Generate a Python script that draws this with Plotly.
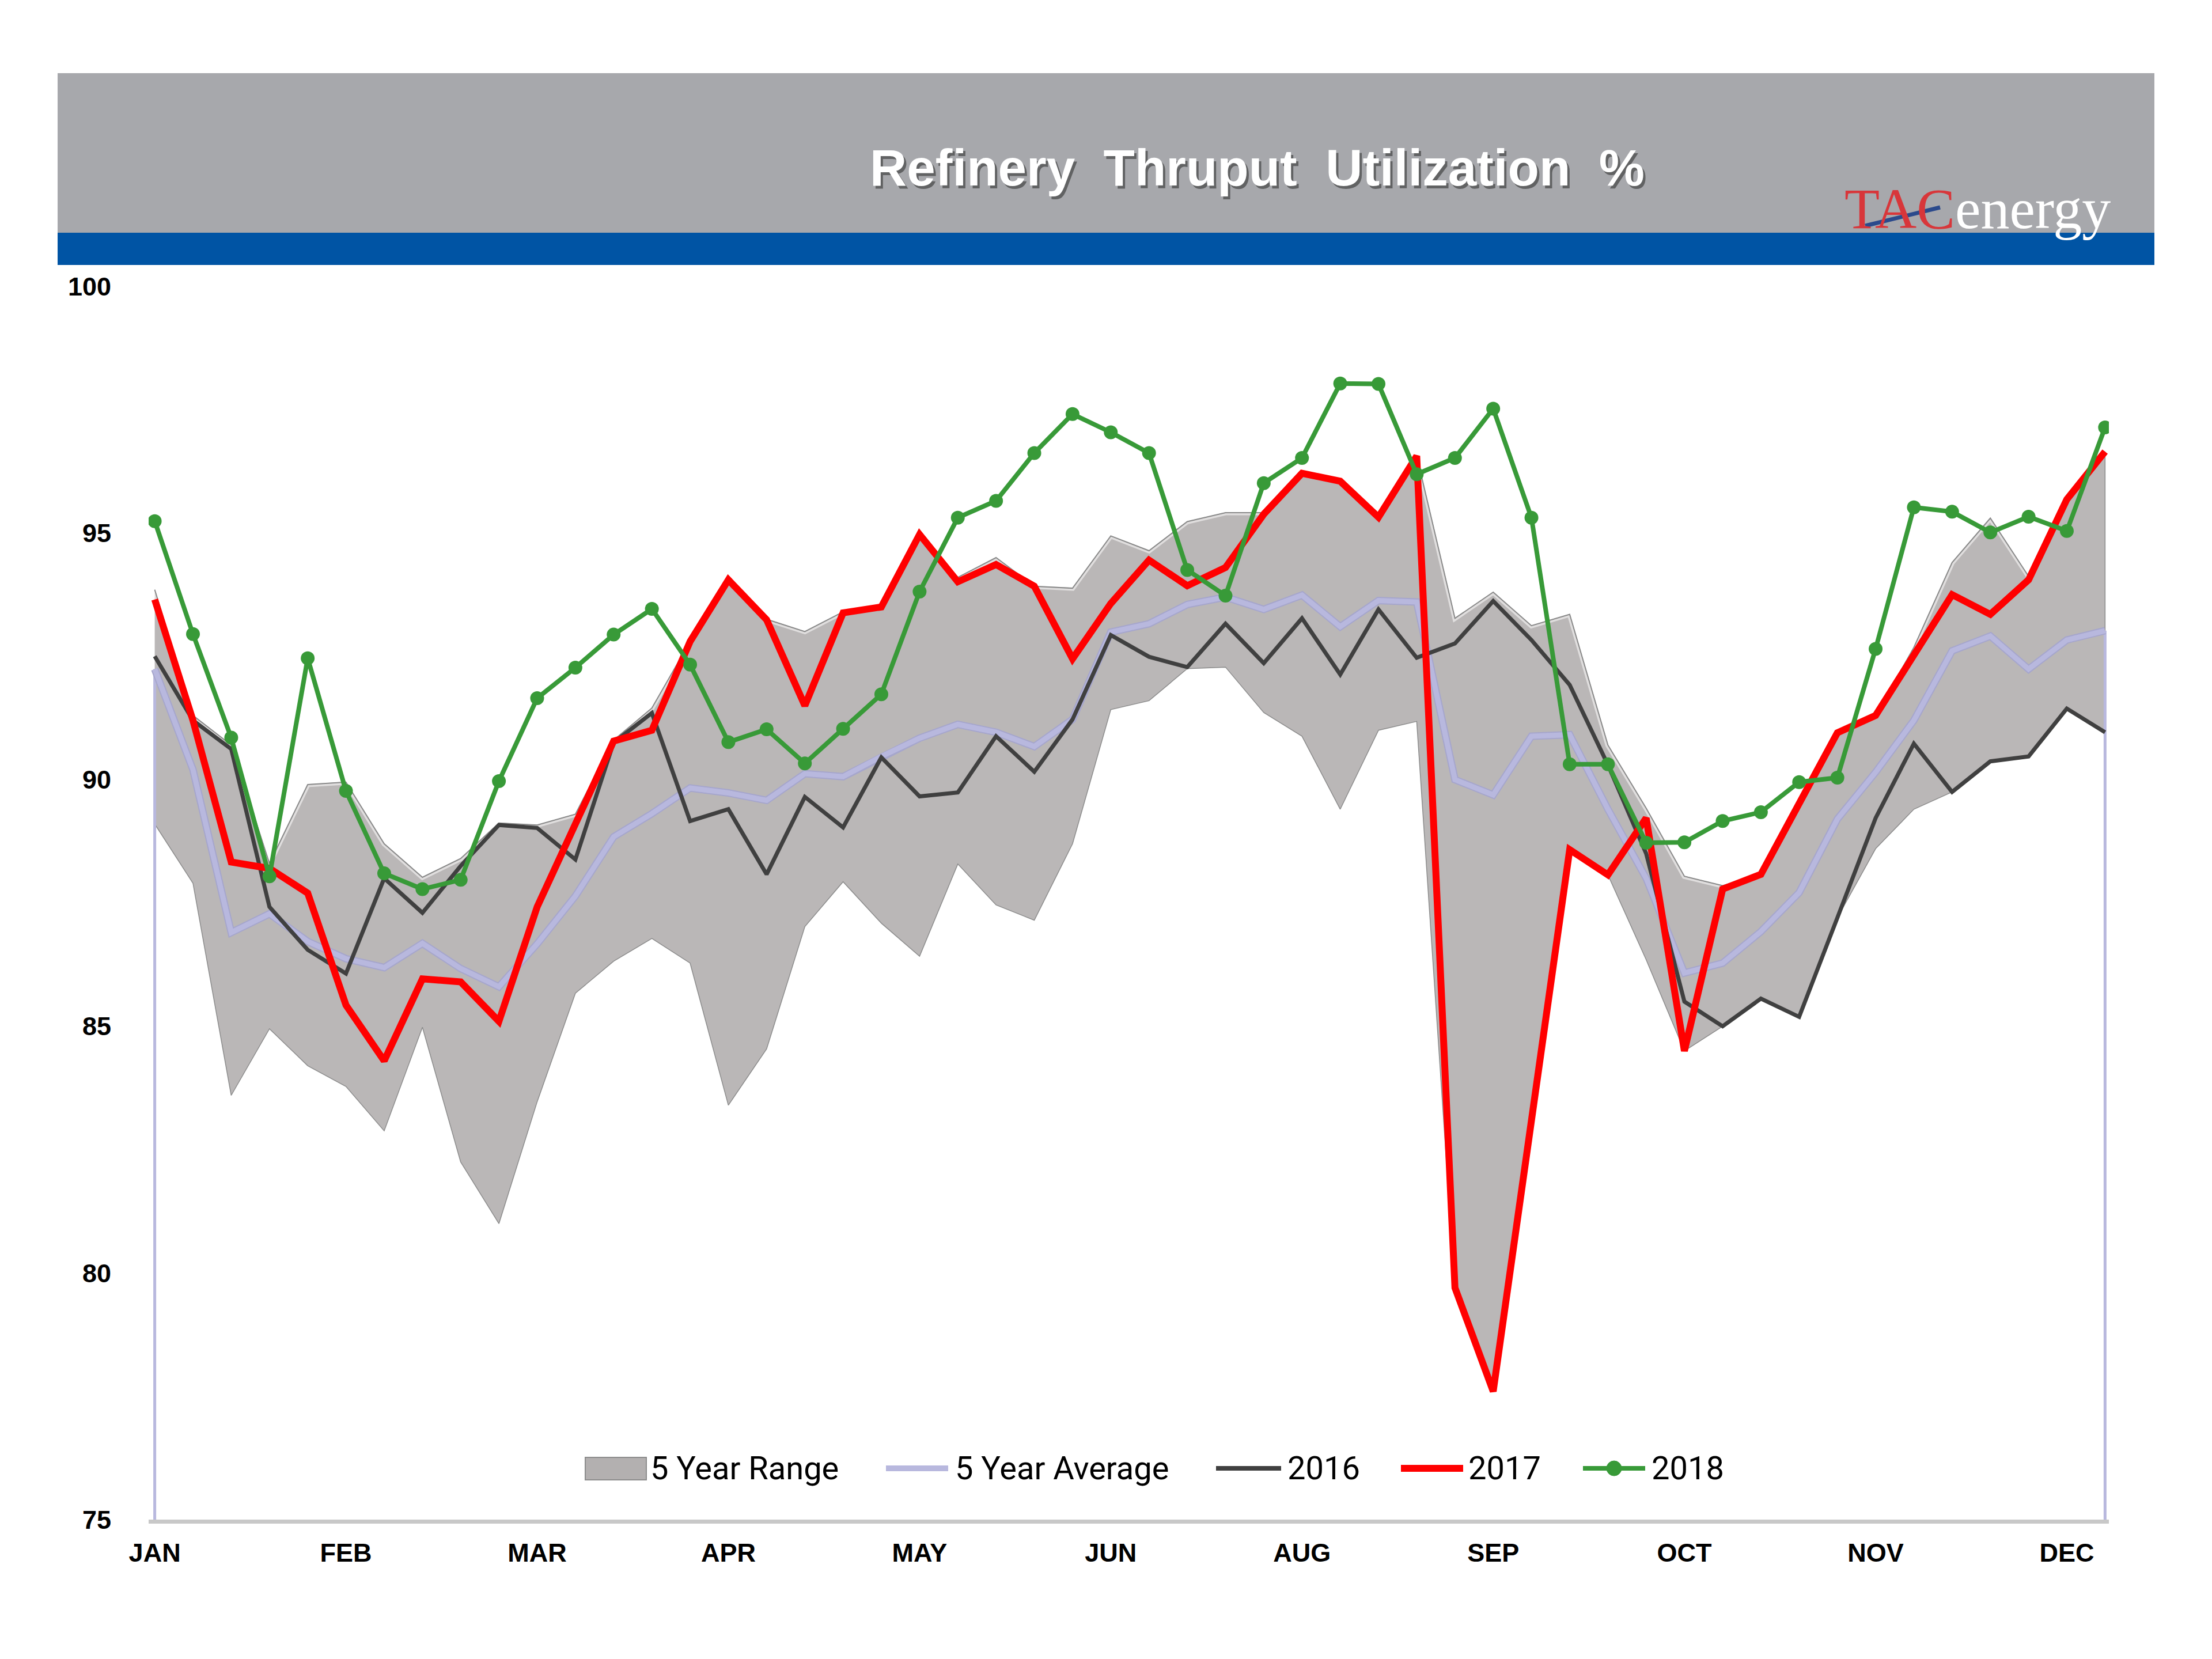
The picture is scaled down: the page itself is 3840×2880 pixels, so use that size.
import plotly.graph_objects as go

W, H = 3840, 2880
PAGE_OFFSET = 8  # browser body margin

# ---------------- data ----------------
WEEKS = list(range(52))
MONTH_TICK_WEEKS = [0, 5, 10, 15, 20, 25, 30, 35, 40, 45, 50]
MONTH_LABELS = ["JAN", "FEB", "MAR", "APR", "MAY", "JUN", "AUG", "SEP", "OCT", "NOV", "DEC"]
Y_TICKS = [75, 80, 85, 90, 95, 100]

RANGE_MAX = [93.85, 91.3, 90.7, 88.3, 89.9, 89.95, 88.7, 88.02, 88.4, 89.12,
             89.08, 89.3, 90.8, 91.45, 92.8, 94.06, 93.25, 93.0, 93.4, 93.55,
             94.97, 94.1, 94.5, 93.92, 93.88, 94.94, 94.64, 95.23, 95.41, 95.41,
             96.21, 96.05, 95.32, 96.56, 93.27, 93.8, 93.12, 93.35, 90.7, 89.42,
             88.04, 87.85, 88.08, 89.5, 90.95, 91.3, 92.68, 94.4, 95.3, 94.12,
             95.68, 96.65]
RANGE_MIN = [89.1, 87.9, 83.6, 84.95, 84.2, 83.78, 82.88, 84.98, 82.25, 81.0,
             83.47, 85.67, 86.32, 86.78, 86.28, 83.4, 84.54, 87.02, 87.93, 87.09,
             86.42, 88.29, 87.46, 87.15, 88.7, 91.42, 91.6, 92.25, 92.28, 91.36,
             90.88, 89.4, 91.0, 91.18, 79.7, 77.6, 83.0, 88.58, 88.07, 86.35,
             84.5, 85.0, 85.56, 85.19, 87.2, 88.6, 89.4, 89.75, 90.37, 90.47,
             91.44, 90.96]
AVG_5YR = [92.24, 90.2, 86.9, 87.28, 86.72, 86.37, 86.19, 86.68, 86.17, 85.8,
           86.67, 87.64, 88.84, 89.31, 89.83, 89.73, 89.58, 90.12, 90.06, 90.47,
           90.84, 91.12, 90.96, 90.67, 91.22, 92.99, 93.16, 93.55, 93.7, 93.45,
           93.74, 93.1, 93.63, 93.6, 90.0, 89.69, 90.88, 90.91, 89.4, 88.0,
           86.08, 86.28, 86.92, 87.71, 89.2, 90.15, 91.2, 92.61, 92.91, 92.24,
           92.83, 93.02]
Y2016 = [92.5, 91.2, 90.62, 87.42, 86.55, 86.07, 88.0, 87.3, 88.25, 89.08,
         89.02, 88.38, 90.75, 91.35, 89.16, 89.4, 88.08, 89.65, 89.03, 90.45,
         89.66, 89.74, 90.88, 90.16, 91.22, 92.93, 92.49, 92.28, 93.16, 92.36,
         93.27, 92.13, 93.45, 92.47, 92.76, 93.62, 92.83, 91.92, 90.3, 88.5,
         85.5, 85.0, 85.56, 85.19, 87.2, 89.22, 90.73, 89.75, 90.37, 90.47,
         91.44, 90.96]
Y2017 = [93.65, 91.2, 88.33, 88.2, 87.7, 85.43, 84.3, 85.96, 85.9, 85.1,
         87.42, 89.1, 90.78, 91.0, 92.8, 94.05, 93.24, 91.5, 93.38, 93.5,
         94.97, 94.01, 94.36, 93.92, 92.45, 93.57, 94.45, 93.93, 94.3, 95.38,
         96.21, 96.05, 95.32, 96.56, 79.7, 77.6, 83.0, 88.58, 88.07, 89.22,
         84.5, 87.78, 88.08, 89.5, 90.95, 91.3, 92.55, 93.75, 93.35, 94.05,
         95.68, 96.65]
Y2018 = [95.24, 92.95, 90.85, 88.04, 92.46, 89.77, 88.1, 87.78, 87.97, 89.97,
         91.65, 92.27, 92.94, 93.46, 92.33, 90.76, 91.02, 90.33, 91.03, 91.73,
         93.81, 95.31, 95.65, 96.62, 97.41, 97.04, 96.62, 94.25, 93.73, 96.01,
         96.52, 98.03, 98.02, 96.19, 96.52, 97.52, 95.31, 90.31, 90.31, 88.72,
         88.73, 89.16, 89.34, 89.95, 90.04, 92.65, 95.52, 95.43, 95.01, 95.33,
         95.04, 97.14]

# ---------------- styles ----------------
C_RANGE = "#BAB7B7"
C_RANGE_EDGE = "#8C8C8C"
C_AVG = "#B8B8DE"
C_2016 = "#404040"
C_2017 = "#FF0000"
C_2018 = "#389A38"


def px(x):
    return (x - PAGE_OFFSET) / W


def py(y):
    return 1 - (y - PAGE_OFFSET) / H


fig = go.Figure()

# 5 year range band (max forward, min backward)
fig.add_trace(go.Scatter(
    x=WEEKS + WEEKS[::-1], y=RANGE_MAX + RANGE_MIN[::-1],
    fill="toself", fillcolor=C_RANGE, mode="lines",
    line=dict(color=C_RANGE_EDGE, width=1.5),
    showlegend=False, hoverinfo="skip"))
# bevel-like highlight along the top edge of the band
fig.add_trace(go.Scatter(
    x=WEEKS, y=RANGE_MAX, mode="lines",
    line=dict(color="rgba(255,255,255,0.55)", width=9),
    showlegend=False, hoverinfo="skip"))
fig.add_trace(go.Scatter(
    x=WEEKS, y=RANGE_MAX, mode="lines",
    line=dict(color="#8A8A8A", width=2),
    showlegend=False, hoverinfo="skip"))

# end edges of the stacked area (down to the axis floor)
fig.add_trace(go.Scatter(
    x=[WEEKS[0], WEEKS[0], None, WEEKS[-1], WEEKS[-1]],
    y=[Y_TICKS[0], AVG_5YR[0], None, Y_TICKS[0], AVG_5YR[-1]],
    mode="lines", line=dict(color=C_AVG, width=5),
    showlegend=False, hoverinfo="skip"))

fig.add_trace(go.Scatter(x=WEEKS, y=AVG_5YR, mode="lines",
                         line=dict(color="#A6A6CC", width=13), showlegend=False,
                         hoverinfo="skip"))
fig.add_trace(go.Scatter(x=WEEKS, y=AVG_5YR, mode="lines",
                         line=dict(color=C_AVG, width=9), showlegend=False))
fig.add_trace(go.Scatter(x=WEEKS, y=Y2016, mode="lines",
                         line=dict(color=C_2016, width=7), showlegend=False))
fig.add_trace(go.Scatter(x=WEEKS, y=Y2017, mode="lines",
                         line=dict(color=C_2017, width=12), showlegend=False))
fig.add_trace(go.Scatter(x=WEEKS, y=Y2018, mode="lines+markers",
                         line=dict(color=C_2018, width=8),
                         marker=dict(color=C_2018, size=24), showlegend=False))

shapes = []
annotations = []

# header bands
shapes.append(dict(type="rect", xref="paper", yref="paper",
                   x0=px(100), x1=px(3740), y0=py(404), y1=py(127),
                   fillcolor="#A7A8AC", line=dict(width=0), layer="below"))
shapes.append(dict(type="rect", xref="paper", yref="paper",
                   x0=px(100), x1=px(3740), y0=py(460), y1=py(404),
                   fillcolor="#0054A4", line=dict(width=0), layer="below"))

# title with shadow
TITLE = "Refinery\u00a0\u00a0Thruput\u00a0\u00a0Utilization\u00a0\u00a0%"
annotations.append(dict(text=TITLE, xref="paper", yref="paper",
                        x=px(2186), y=py(296), xanchor="center", yanchor="middle",
                        showarrow=False,
                        font=dict(family="Liberation Sans, Arial", size=89,
                                  color="rgba(60,60,60,0.65)", weight="bold")))
annotations.append(dict(text=TITLE, xref="paper", yref="paper",
                        x=px(2182), y=py(291), xanchor="center", yanchor="middle",
                        showarrow=False,
                        font=dict(family="Liberation Sans, Arial", size=89,
                                  color="white", weight="bold")))

# logo
annotations.append(dict(
    text="<span style='color:#D8363A'>TAC</span><span style='color:#FFFFFF'>energy</span>",
    xref="paper", yref="paper", x=px(3200), y=py(362),
    xanchor="left", yanchor="middle", showarrow=False,
    font=dict(family="Liberation Serif, Times New Roman", size=100)))
shapes.append(dict(type="line", xref="paper", yref="paper",
                   x0=px(3238), y0=py(392), x1=px(3368), y1=py(360),
                   line=dict(color="#2B4A8C", width=7)))

# manual legend
LEG_Y = 2549
LEG_FONT = dict(family="Roboto, Open Sans, sans-serif", size=56, color="#000000")
shapes.append(dict(type="rect", xref="paper", yref="paper",
                   x0=px(1016), x1=px(1122), y0=py(2569), y1=py(2530),
                   fillcolor="#B3B0B0", line=dict(color="#8C8C8C", width=2)))
legend_items = [
    ("5 Year Range", None, None, 1127, None),
    ("5 Year Average", C_AVG, 10, 1656, (1538, 1646)),
    ("2016", C_2016, 8, 2233, (2111, 2224)),
    ("2017", C_2017, 12, 2547, (2432, 2540)),
    ("2018", C_2018, 8, 2865, (2748, 2856)),
]
for label, col, wid, tx, seg in legend_items:
    if seg is not None:
        shapes.append(dict(type="line", xref="paper", yref="paper",
                           x0=px(seg[0]), x1=px(seg[1]), y0=py(LEG_Y), y1=py(LEG_Y),
                           line=dict(color=col, width=wid)))
    annotations.append(dict(text=label, xref="paper", yref="paper",
                            x=px(tx), y=py(LEG_Y), xanchor="left", yanchor="middle",
                            showarrow=False, font=LEG_FONT))
shapes.append(dict(type="circle", xref="paper", yref="paper",
                   x0=px(2802 - 13), x1=px(2802 + 13), y0=py(LEG_Y + 13), y1=py(LEG_Y - 13),
                   fillcolor=C_2018, line=dict(color=C_2018, width=1)))

TICK_FONT = dict(family="Liberation Sans, Arial", size=45, color="#000000", weight="bold")

fig.update_layout(
    width=W, height=H,
    margin=dict(l=0, r=0, t=0, b=0, autoexpand=False),
    paper_bgcolor="white", plot_bgcolor="white",
    showlegend=False,
    shapes=shapes, annotations=annotations,
    xaxis=dict(domain=[px(258), px(3661)], range=[-0.16, 51.1],
               tickvals=MONTH_TICK_WEEKS, ticktext=MONTH_LABELS,
               tickfont=TICK_FONT, showgrid=False, zeroline=False,
               showline=True, linecolor="#C8C8C8", linewidth=7,
               ticks="", ticklabelstandoff=12, automargin=False),
    yaxis=dict(domain=[py(2638), py(497)], range=[75, 100],
               tickvals=Y_TICKS, ticktext=[str(v) for v in Y_TICKS],
               tickfont=TICK_FONT, showgrid=False, zeroline=False,
               showline=False, ticks="", ticklabelstandoff=64, automargin=False),
)

fig.write_html("out.html")
